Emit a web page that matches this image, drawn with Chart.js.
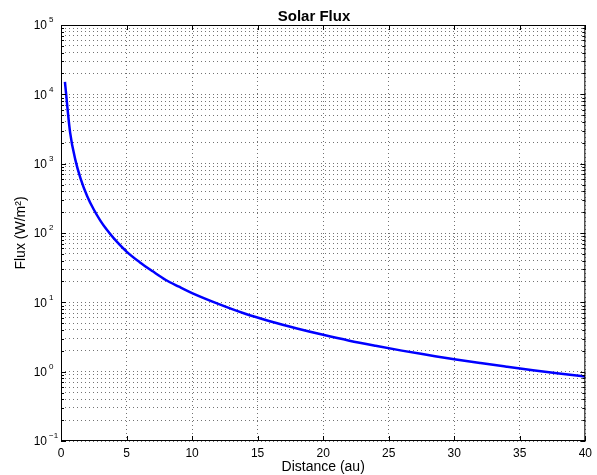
<!DOCTYPE html>
<html>
<head>
<meta charset="utf-8">
<script src="https://cdn.jsdelivr.net/npm/chart.js@4.4.0/dist/chart.umd.min.js"></script>
<style>
    html, body { margin: 0; padding: 0; background: #fff; }
    #wrap { width: 597px; height: 475px; }
</style>
</head>
<body>
<div id="wrap"><canvas id="fluxChart" width="597" height="475"></canvas></div>
<script>
// Distance from the Sun (au) and solar flux at that distance (W/m^2)
const distance = [0.3, 0.7, 1.1, 1.5, 2.0, 2.5, 3.0, 3.5, 4.0, 5.0, 6.0, 7.0, 8.0, 9.0, 10, 12, 14, 16, 18, 20, 22, 24, 26, 28, 30, 32, 34, 36, 38, 40];
const flux = [15100, 2780, 1125, 605, 340, 218, 151, 111, 85, 54, 38, 28, 21, 16.8, 13.6, 9.5, 6.9, 5.3, 4.2, 3.4, 2.8, 2.36, 2.01, 1.74, 1.51, 1.33, 1.18, 1.05, 0.94, 0.85];

// Axis ticks
const xTicks = [0, 5, 10, 15, 20, 25, 30, 35, 40];
const yDecades = [-1, 0, 1, 2, 3, 4, 5];

const FONT = '"Liberation Sans", Arial, Helvetica, sans-serif';
const GRID = 'rgba(0, 0, 0, 0.55)';

// log ticks: every decade plus the 2..9 minors in between
function buildLogTicks() {
    const ticks = [];
    yDecades.forEach((e, i) => {
        const base = Math.pow(10, e);
        ticks.push({ value: base, major: true });
        if (i < yDecades.length - 1) {
            for (let k = 2; k <= 9; k++) ticks.push({ value: k * base, major: false });
        }
    });
    return ticks;
}

// box, inward tick marks, 10^n labels and title
const axesBox = {
    id: 'axesBox',
    afterDraw(chart) {
        const ctx = chart.ctx;
        const { left, right, top, bottom } = chart.chartArea;
        const xs = chart.scales.x;
        const ys = chart.scales.y;
        ctx.save();
        ctx.strokeStyle = '#000';
        ctx.lineWidth = 1;
        ctx.strokeRect(left + 0.5, top + 0.5, right - left - 1, bottom - top - 1);

        ctx.beginPath();
        xTicks.forEach(v => {
            const px = Math.round(xs.getPixelForValue(v)) + 0.5;
            ctx.moveTo(px, bottom);
            ctx.lineTo(px, bottom - 5);
            ctx.moveTo(px, top);
            ctx.lineTo(px, top + 5);
        });
        ys.ticks.forEach(t => {
            const py = Math.round(ys.getPixelForValue(t.value)) + 0.5;
            const len = t.major ? 5 : 3;
            ctx.moveTo(left, py);
            ctx.lineTo(left + len, py);
            ctx.moveTo(right, py);
            ctx.lineTo(right - len, py);
        });
        ctx.stroke();

        ctx.fillStyle = '#000';
        ctx.textBaseline = 'middle';
        yDecades.forEach(e => {
            const py = ys.getPixelForValue(Math.pow(10, e));
            ctx.font = '12px ' + FONT;
            ctx.textAlign = 'right';
            ctx.fillText('10', left - 14, py + 1);
            ctx.font = '8px ' + FONT;
            ctx.textAlign = 'left';
            ctx.fillText(e < 0 ? '\u2212' + Math.abs(e) : String(e), left - 12, py - 5);
        });

        ctx.font = 'bold 15px ' + FONT;
        ctx.textAlign = 'center';
        ctx.fillText('Solar Flux', 314, 17);
        ctx.restore();
    }
};

const ctx = document.getElementById('fluxChart').getContext('2d');
new Chart(ctx, {
    type: 'line',
    data: {
        datasets: [{
            label: 'Solar Flux',
            data: distance.map((d, i) => ({ x: d, y: flux[i] })),
            borderColor: '#0000ff',
            borderWidth: 2.5,
            pointRadius: 0,
            cubicInterpolationMode: 'monotone',
            fill: false
        }]
    },
    options: {
        responsive: false,
        devicePixelRatio: 1,
        animation: false,
        layout: {
            padding: { left: 0, right: 8, top: 25, bottom: 0 }
        },
        plugins: {
            legend: { display: false },
            tooltip: { enabled: false },
            title: { display: false }
        },
        scales: {
            x: {
                type: 'linear',
                min: 0,
                max: 40,
                afterBuildTicks: function(scale) {
                    scale.ticks = xTicks.map(v => ({ value: v }));
                },
                afterFit: function(scale) {
                    scale.height = 34;
                },
                ticks: {
                    color: '#000',
                    font: { family: FONT, size: 12 },
                    padding: 5,
                    maxRotation: 0
                },
                grid: {
                    color: GRID,
                    lineWidth: 1,
                    drawTicks: false
                },
                border: { display: false, dash: [1, 3] },
                title: {
                    display: true,
                    text: 'Distance (au)',
                    color: '#000',
                    font: { family: FONT, size: 14, lineHeight: 1 },
                    padding: { top: 0, bottom: 1 }
                }
            },
            y: {
                type: 'logarithmic',
                min: 0.1,
                max: 100000,
                afterBuildTicks: function(scale) {
                    scale.ticks = buildLogTicks();
                },
                afterFit: function(scale) {
                    scale.width = 61;
                },
                ticks: { display: false },
                grid: {
                    color: GRID,
                    lineWidth: 1,
                    drawTicks: false
                },
                border: { display: false, dash: [1, 3] },
                title: {
                    display: true,
                    text: 'Flux (W/m\u00b2)',
                    color: '#000',
                    font: { family: FONT, size: 14, lineHeight: 1 },
                    padding: { top: 14, bottom: 0 }
                }
            }
        }
    },
    plugins: [axesBox]
});
</script>
</body>
</html>
